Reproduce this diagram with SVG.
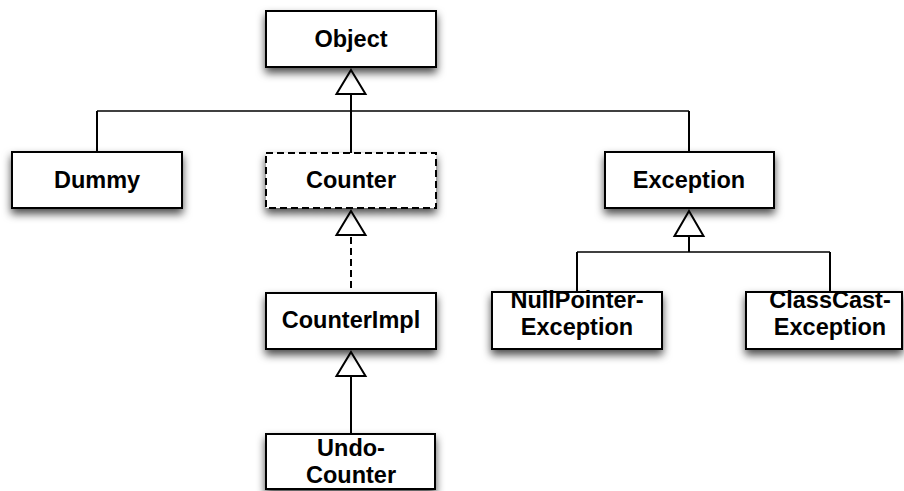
<svg xmlns="http://www.w3.org/2000/svg" width="904" height="491" viewBox="0 0 904 491">
<style>
.box{fill:#fff;stroke:#000;stroke-width:2;filter:url(#sh)}
.dash{stroke-dasharray:7 4}
.lbl{font-family:"Liberation Sans",Arial,Helvetica,sans-serif;font-weight:bold;font-size:23.5px;text-anchor:middle;fill:#000}
.ln{fill:none;stroke:#000;stroke-width:1.6}
.st{fill:none;stroke:#000;stroke-width:2}
.tri{fill:#fff;stroke:#000;stroke-width:2;stroke-linejoin:miter}
</style>
<defs>
<filter id="sh" x="-20%" y="-30%" width="140%" height="180%">
<feDropShadow dx="0" dy="5" stdDeviation="4" flood-color="#000" flood-opacity="0.7"/>
</filter>
</defs>
<rect width="904" height="491" fill="#fff"/>
<g id="connectors">
<line class="ln" x1="97" y1="111" x2="689" y2="111"/>
<line class="st" x1="351" y1="94" x2="351" y2="153"/>
<line class="st" x1="97" y1="111" x2="97" y2="152"/>
<line class="st" x1="689" y1="111" x2="689" y2="152"/>
<polygon class="tri" points="351,70 365.5,94 336.5,94"/>
<line class="ln" x1="577" y1="252" x2="830" y2="252"/>
<line class="st" x1="689" y1="236" x2="689" y2="252"/>
<line class="st" x1="577" y1="252" x2="577" y2="292"/>
<line class="st" x1="830" y1="252" x2="830" y2="292"/>
<polygon class="tri" points="689,211 703.5,236 674.5,236"/>
<line class="st dash" x1="351" y1="237" x2="351" y2="293"/>
<polygon class="tri" points="351,211 365.5,235 336.5,235"/>
<line class="st" x1="351" y1="376" x2="351" y2="434"/>
<polygon class="tri" points="351,352 365.5,376 336.5,376"/>
</g>
<g id="object"><rect class="box" x="266" y="11" width="170" height="56"/><text class="lbl" x="351" y="47">Object</text></g>
<g id="dummy"><rect class="box" x="12" y="152" width="170" height="56"/><text class="lbl" x="97" y="188">Dummy</text></g>
<g id="counter"><rect class="box dash" x="266" y="153" width="170" height="55"/><text class="lbl" x="351" y="188">Counter</text></g>
<g id="exception"><rect class="box" x="605" y="152" width="169" height="56"/><text class="lbl" x="689" y="188">Exception</text></g>
<g id="counterimpl"><rect class="box" x="266" y="293" width="170" height="56"/><text class="lbl" x="351" y="328">CounterImpl</text></g>
<g id="nullpointer"><rect class="box" x="492" y="292" width="170" height="57"/><text class="lbl" x="577" y="308">NullPointer-</text><text class="lbl" x="577" y="335">Exception</text></g>
<g id="classcast"><rect class="box" x="746" y="292" width="156" height="57"/><text class="lbl" x="830" y="308">ClassCast-</text><text class="lbl" x="830" y="335">Exception</text></g>
<g id="undocounter"><rect class="box" x="266" y="434" width="169" height="55"/><text class="lbl" x="351" y="456">Undo-</text><text class="lbl" x="351" y="483">Counter</text></g>
</svg>
